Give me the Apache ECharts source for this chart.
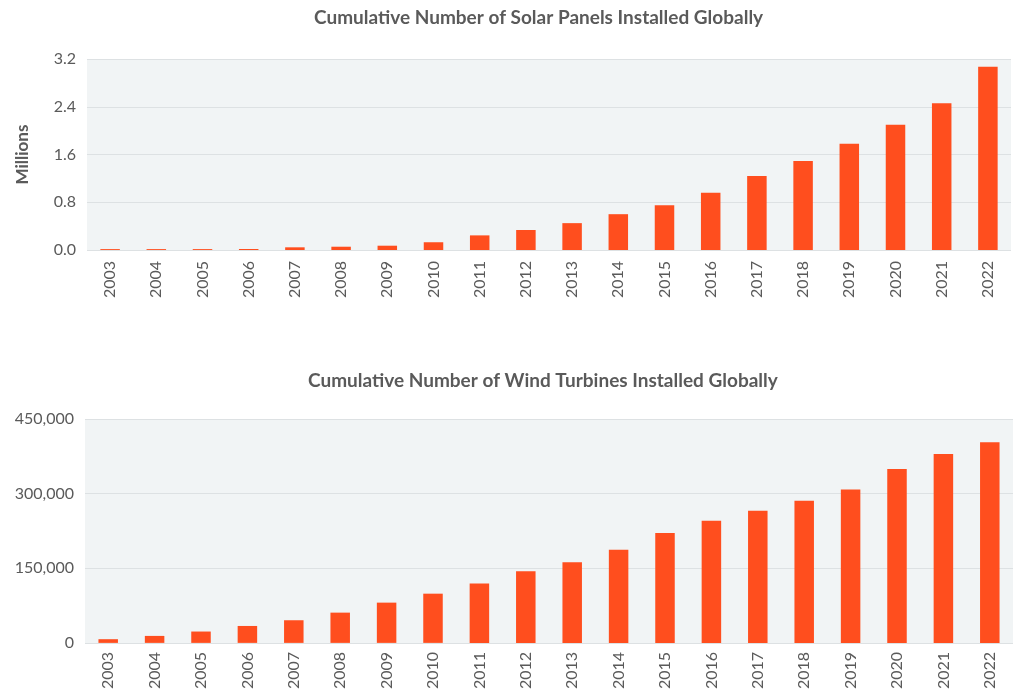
<!DOCTYPE html>
<html>
<head>
<meta charset="utf-8">
<script src="https://cdn.jsdelivr.net/npm/echarts@6/dist/echarts.min.js"></script>
<style>
  html, body { margin: 0; padding: 0; background: #ffffff; }
  #chart { width: 1013px; height: 692px; }
</style>
</head>
<body>
<div id="chart"></div>
<script>
const years = ['2003','2004','2005','2006','2007','2008','2009','2010','2011','2012',
               '2013','2014','2015','2016','2017','2018','2019','2020','2021','2022'];
const solarMillions = [0.015, 0.015, 0.015, 0.017, 0.045, 0.055, 0.072, 0.13, 0.245, 0.335,
                       0.45, 0.6, 0.75, 0.96, 1.24, 1.49, 1.78, 2.1, 2.46, 3.07];
const windTurbines = [7400, 14000, 22800, 34000, 45500, 60800, 80900, 98900, 119600, 144200,
                      162200, 187000, 221100, 245700, 265800, 285800, 308400, 349300, 379900, 403300];
const solarTicks = { min: 0, max: 3.2, interval: 0.8 };
const windTicks = { min: 0, max: 450000, interval: 150000 };
const titles = ['Cumulative Number of Solar Panels Installed Globally',
                'Cumulative Number of Wind Turbines Installed Globally'];

const FONT = 'Lato';
const TXT = '#5a5a5a';
const BAR = '#ff4e1e';
const BG = '#f1f4f5';
const GRIDLINE = '#dde1e3';

const chart = echarts.init(document.getElementById('chart'), null, { renderer: 'canvas' });

function xAxis(gridIndex, margin) {
  return {
    type: 'category', gridIndex, data: years,
    axisLine: { show: false },
    axisTick: { show: false },
    axisLabel: { rotate: 90, margin, color: TXT, fontFamily: FONT, fontSize: 16, interval: 0 }
  };
}
function yAxis(gridIndex, ticks, fmt, extra) {
  return Object.assign({
    type: 'value', gridIndex, min: ticks.min, max: ticks.max, interval: ticks.interval,
    axisLine: { show: false }, axisTick: { show: false },
    splitLine: { lineStyle: { color: GRIDLINE, width: 1 } },
    axisLabel: { color: TXT, fontFamily: FONT, fontSize: 16, margin: 11, formatter: fmt }
  }, extra || {});
}

chart.setOption({
  animation: false,
  backgroundColor: '#ffffff',
  title: [
    { text: titles[0], left: 309, top: 3,
      textStyle: { color: TXT, fontFamily: FONT, fontSize: 19, fontWeight: 'bold' } },
    { text: titles[1], left: 303, top: 366,
      textStyle: { color: TXT, fontFamily: FONT, fontSize: 19, fontWeight: 'bold' } }
  ],
  grid: [
    { left: 87, right: 2, top: 59, height: 191, show: true, backgroundColor: BG, borderWidth: 0 },
    { left: 85, right: -2, top: 419, height: 225, show: true, backgroundColor: BG, borderWidth: 0 }
  ],
  xAxis: [xAxis(0, 11), xAxis(1, 9)],
  yAxis: [
    yAxis(0, solarTicks, v => v.toFixed(1), {
      name: 'Millions', nameLocation: 'middle', nameGap: 56, nameRotate: 90,
      nameTextStyle: { color: TXT, fontFamily: FONT, fontSize: 17, fontWeight: 'bold' }
    }),
    yAxis(1, windTicks, v => v.toLocaleString('en-US'))
  ],
  series: [
    { type: 'bar', xAxisIndex: 0, yAxisIndex: 0, data: solarMillions, barWidth: 19.5,
      itemStyle: { color: BAR } },
    { type: 'bar', xAxisIndex: 1, yAxisIndex: 1, data: windTurbines, barWidth: 19.5,
      itemStyle: { color: BAR } }
  ]
});
</script>
</body>
</html>
